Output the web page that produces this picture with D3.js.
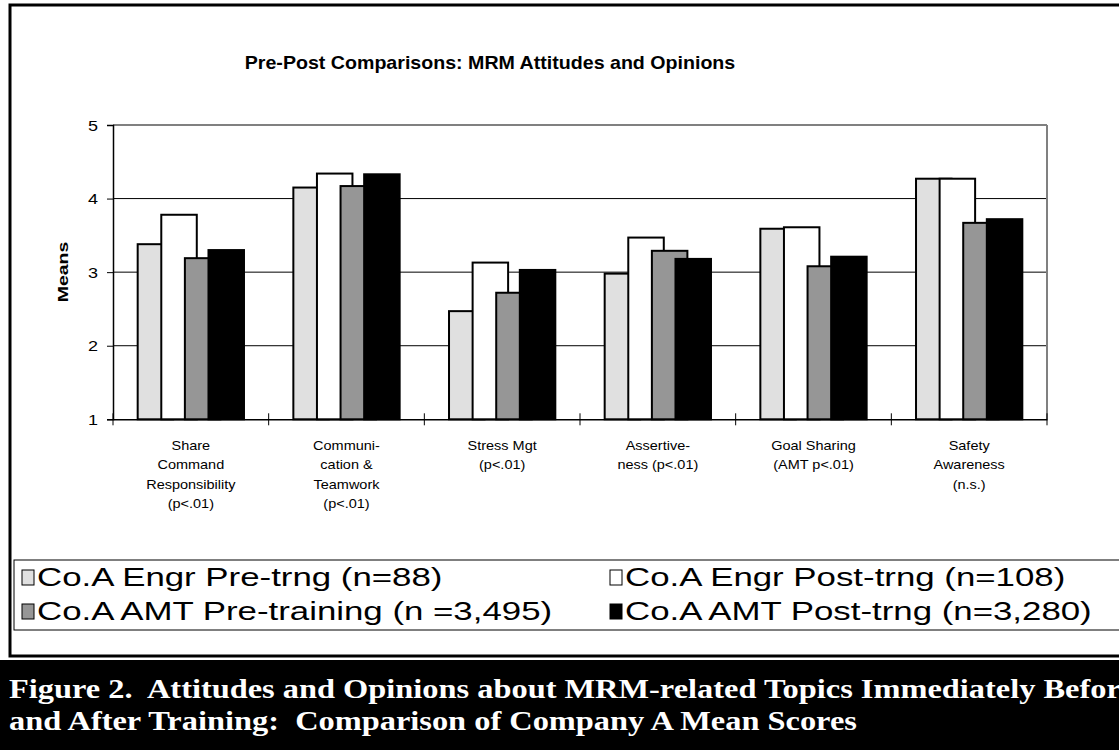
<!DOCTYPE html>
<html>
<head>
<meta charset="utf-8">
<script src="https://cdn.jsdelivr.net/npm/d3@7"></script>
<style>
  html, body { margin: 0; padding: 0; background: #fff; }
  svg { display: block; }
  text { white-space: pre; }
</style>
</head>
<body>
<svg id="chart" width="1119" height="750"></svg>
<script>
// ---------- data ----------
const categories = ["share", "comm", "stress", "assert", "goal", "safety"];
const categoryLabels = [
  ["Share", "Command", "Responsibility", "(p<.01)"],
  ["Communi-", "cation &", "Teamwork", "(p<.01)"],
  ["Stress Mgt", "(p<.01)"],
  ["Assertive-", "ness (p<.01)"],
  ["Goal Sharing", "(AMT p<.01)"],
  ["Safety", "Awareness", "(n.s.)"]
];
const seriesNames = [
  "Co.A Engr Pre-trng (n=88)",
  "Co.A Engr Post-trng (n=108)",
  "Co.A AMT Pre-training (n =3,495)",
  "Co.A AMT Post-trng (n=3,280)"
];
const engrPre  = [3.38, 4.15, 2.47, 2.98, 3.59, 4.27];
const engrPost = [3.78, 4.34, 3.13, 3.47, 3.61, 4.27];
const amtPre   = [3.19, 4.17, 2.72, 3.29, 3.08, 3.67];
const amtPost  = [3.30, 4.33, 3.03, 3.18, 3.21, 3.72];
const yTicks = [1, 2, 3, 4, 5];
const titleText = "Pre-Post Comparisons: MRM Attitudes and Opinions";
const yAxisTitle = "Means";
const captionLines = [
  "Figure 2.  Attitudes and Opinions about MRM-related Topics Immediately Before",
  "and After Training:  Comparison of Company A Mean Scores"
];

// ---------- layout / style ----------
const seriesColors = ["#e0e0e0", "#ffffff", "#969696", "#000000"];
const plot = { left: 113, right: 1047, top: 125, bottom: 419.3 };
const barW = 35.5, barStep = 23.6;

const svg = d3.select("#chart");
const allSeries = [engrPre, engrPost, amtPre, amtPost];

function sText(g, x, y, str, o) {
  o = o || {};
  return g.append("text")
    .attr("transform", `translate(${x},${y})${o.rotate ? ` rotate(${o.rotate})` : ""} scale(${o.sx || 1},1)`)
    .attr("x", 0).attr("y", 0)
    .attr("font-family", o.family || "Arial, 'Liberation Sans', sans-serif")
    .attr("font-size", o.size || 13)
    .attr("font-weight", o.weight || "normal")
    .attr("fill", o.fill || "#000")
    .attr("text-anchor", o.anchor || "start")
    .text(str);
}

// outer chart border
svg.append("rect").attr("x", 10).attr("y", 5).attr("width", 1200).attr("height", 651)
  .attr("fill", "#fff").attr("stroke", "#000").attr("stroke-width", 3);

// title
sText(svg, 490, 69, titleText, { size: 18, sx: 1.09, weight: "bold", anchor: "middle" });

// scales
const x = d3.scaleBand().domain(categories).range([plot.left, plot.right]).paddingInner(0).paddingOuter(0);
const y = d3.scaleLinear().domain([1, 5]).range([plot.bottom, plot.top]);
const groupSpan = barStep * (allSeries.length - 1) + barW;
const off0 = (x.bandwidth() - groupSpan) / 2;
const xs = d3.scaleLinear().domain([0, allSeries.length - 1])
  .range([off0, off0 + barStep * (allSeries.length - 1)]);

// gridlines
svg.append("g").selectAll("line").data(yTicks.filter(v => v > 1 && v < 5)).join("line")
  .attr("x1", plot.left).attr("x2", plot.right)
  .attr("y1", d => y(d)).attr("y2", d => y(d))
  .attr("stroke", "#000").attr("stroke-width", 1);

// plot border top & right (gray)
svg.append("line").attr("x1", plot.left).attr("x2", plot.right).attr("y1", y(5)).attr("y2", y(5))
  .attr("stroke", "#808080").attr("stroke-width", 2);
svg.append("line").attr("x1", plot.right).attr("x2", plot.right).attr("y1", y(5)).attr("y2", y(1))
  .attr("stroke", "#808080").attr("stroke-width", 2);

// bars
allSeries.forEach((vals, si) => {
  svg.append("g").selectAll("rect").data(vals).join("rect")
    .attr("x", (d, i) => x(categories[i]) + xs(si))
    .attr("y", d => y(d))
    .attr("width", barW)
    .attr("height", d => y(1) - y(d))
    .attr("fill", seriesColors[si])
    .attr("stroke", "#000").attr("stroke-width", 2);
});

// y axis
const yAxis = d3.axisLeft(y).tickValues(yTicks).tickSize(6).tickFormat(d3.format("d"));
const yg = svg.append("g").attr("transform", `translate(${plot.left},0)`).call(yAxis);
yg.select(".domain").attr("stroke", "#000").attr("stroke-width", 1.5);
yg.selectAll(".tick line").attr("stroke", "#000");
yg.selectAll(".tick text").remove();
yTicks.forEach(v => sText(svg, 98, y(v) + 5.5, String(v), { size: 15, sx: 1.2, anchor: "end" }));

// x axis
const xAxis = d3.axisBottom(x).tickSize(0).tickFormat("");
const xg = svg.append("g").attr("transform", `translate(0,${plot.bottom})`).call(xAxis);
xg.select(".domain").attr("stroke", "#000").attr("stroke-width", 1.5);
const boundaries = categories.map(c => x(c)).concat([plot.right]);
svg.append("g").selectAll("line").data(boundaries).join("line")
  .attr("x1", d => d).attr("x2", d => d)
  .attr("y1", plot.bottom - 6).attr("y2", plot.bottom + 6)
  .attr("stroke", "#000").attr("stroke-width", 1);

// category labels
categoryLabels.forEach((lines, i) => {
  const cx = x(categories[i]) + x.bandwidth() / 2;
  lines.forEach((ln, k) => sText(svg, cx, 450 + k * 19.3, ln, { size: 12.5, sx: 1.16, anchor: "middle" }));
});

// y axis title
sText(svg, 68, 272, yAxisTitle, { size: 15, sx: 1.3, weight: "bold", anchor: "middle", rotate: -90 });

// legend
svg.append("rect").attr("x", 14).attr("y", 560).attr("width", 1200).attr("height", 70)
  .attr("fill", "#fff").attr("stroke", "#000").attr("stroke-width", 1);
const legendPos = [[22, 586], [610, 586], [22, 620], [610, 620]];
seriesNames.forEach((nm, i) => {
  const [lx, ly] = legendPos[i];
  svg.append("rect").attr("x", lx).attr("y", ly - 16).attr("width", 12).attr("height", 15)
    .attr("fill", seriesColors[i]).attr("stroke", "#000").attr("stroke-width", 1);
  sText(svg, lx + 15, ly, nm, { size: 26, sx: 1.34 });
});

// caption band
svg.append("rect").attr("x", 0).attr("y", 660).attr("width", 1119).attr("height", 90).attr("fill", "#000");
captionLines.forEach((ln, k) => sText(svg, 9, 698 + k * 32, ln,
  { size: 27, sx: 1.2, weight: "bold", fill: "#fff", family: "'Liberation Serif', 'Times New Roman', serif" }));
</script>
</body>
</html>
